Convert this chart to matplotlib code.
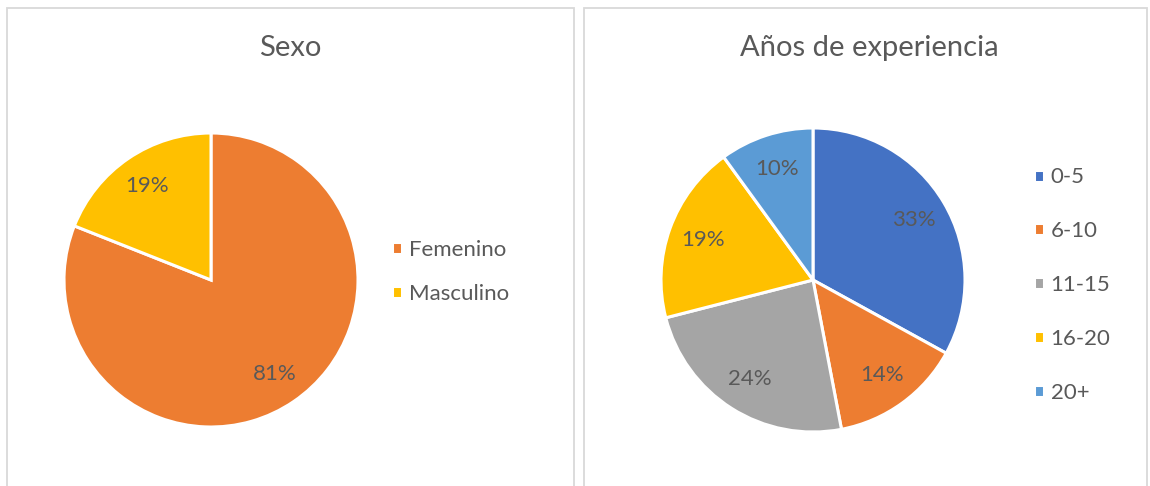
import matplotlib.pyplot as plt
from matplotlib.patches import Rectangle

plt.rcParams['font.family'] = ['Lato', 'DejaVu Sans']

# data
sexo_labels = ['Femenino', 'Masculino']
sexo_values = [81, 19]
sexo_colors = ['#ED7D31', '#FFC000']

exp_labels = ['0-5', '6-10', '11-15', '16-20', '20+']
exp_values = [33, 14, 24, 19, 10]
exp_colors = ['#4472C4', '#ED7D31', '#A5A5A5', '#FFC000', '#5B9BD5']

TXT = '#595959'
W, H = 1150, 486

fig = plt.figure(figsize=(W/100, H/100), dpi=100)

def px_box(x0, y0, x1, y1):
    # pixel box (top-left origin) -> figure fraction rect
    return [x0/W, 1 - y1/H, (x1-x0)/W, (y1-y0)/H]

# chart frames
for x0, x1 in [(7, 574), (584, 1147)]:
    fig.patches.append(Rectangle((x0/W, -0.1), (x1-x0)/W, 1 - 8/H + 0.1,
                                 transform=fig.transFigure, fill=False,
                                 edgecolor='#D9D9D9', linewidth=1.3))

def draw_pie(cx, cy, r, values, colors, labels, title, title_x, leg_x, leg_y, spacing):
    ax = fig.add_axes(px_box(cx - r, cy - r, cx + r, cy + r))
    wedges, _, autotexts = ax.pie(values, colors=colors, startangle=90, counterclock=False,
                                  autopct='%d%%', pctdistance=0.77, radius=1,
                                  wedgeprops=dict(edgecolor='white', linewidth=2.2),
                                  textprops=dict(color=TXT, fontsize=16))
    ax.set_xlim(-1, 1)
    ax.set_ylim(-1, 1)
    ax.set_aspect('auto')
    ax.axis('off')
    fig.text(title_x/W, 1 - 48/H, title, ha='center', va='center', fontsize=21, color=TXT)
    fig.legend(wedges, labels, loc='center left', bbox_to_anchor=(leg_x/W, 1 - leg_y/H),
               bbox_transform=fig.transFigure, frameon=False, fontsize=16,
               labelcolor=TXT, handlelength=0.45, handleheight=0.45, handletextpad=0.3,
               labelspacing=spacing, borderpad=0, borderaxespad=0)

draw_pie(211, 280, 147, sexo_values, sexo_colors, sexo_labels, 'Sexo', 290, 392, 272, 1.05)
draw_pie(813, 280, 152, exp_values, exp_colors, exp_labels, 'Años de experiencia', 869, 1034, 285, 1.52)

fig.savefig('out.png', dpi=100)
